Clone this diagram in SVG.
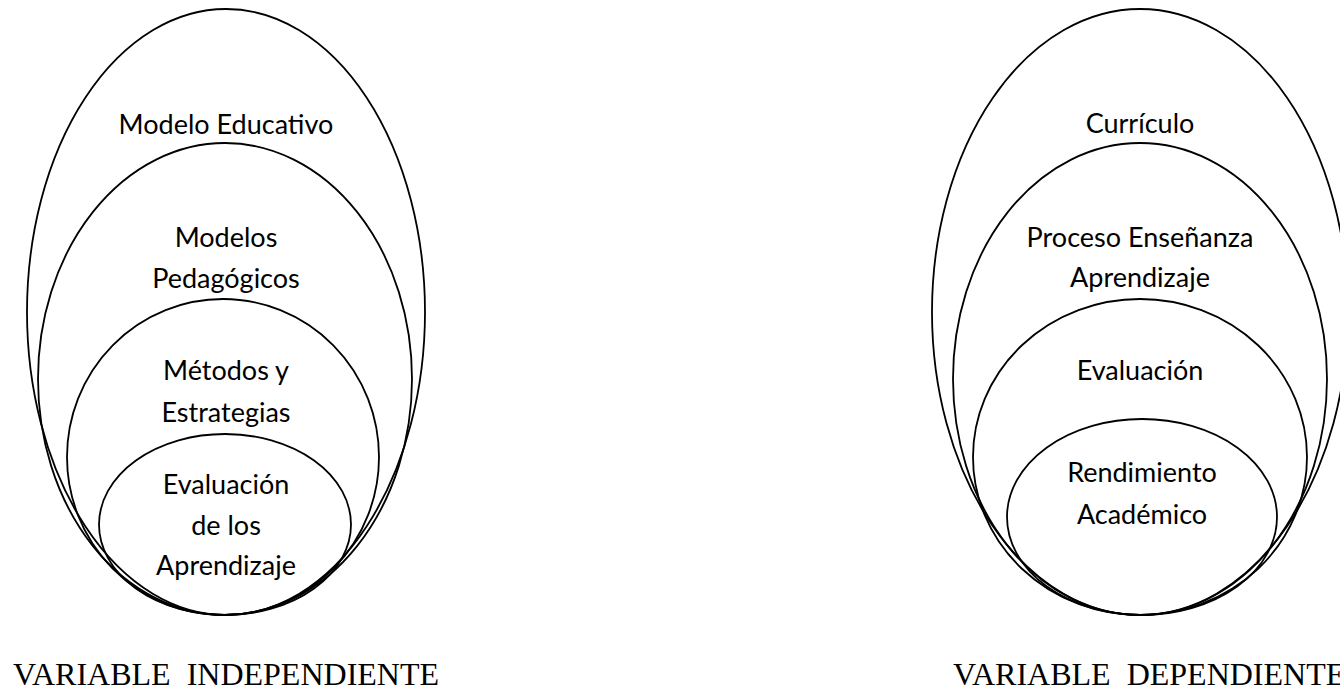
<svg xmlns="http://www.w3.org/2000/svg" width="1340" height="692" viewBox="0 0 1340 692">
<style>
.e{fill:none;stroke:#000;stroke-width:1.8}
.t{font-family:Lato,"Liberation Sans",sans-serif;font-size:27px;fill:#000;text-anchor:middle}
.v{font-family:"Liberation Serif","Times New Roman",serif;font-size:32px;fill:#000;white-space:pre}
</style>
<rect width="1340" height="692" fill="#fff"/>
<g id="independiente">
<g id="modelo-educativo"><ellipse class="e" cx="226" cy="312" rx="199" ry="303"/><text class="t" x="226" y="134">Modelo Educativo</text></g>
<g id="modelos-pedagogicos"><ellipse class="e" cx="225" cy="379" rx="187" ry="236"/><text class="t" x="226" y="247">Modelos</text><text class="t" x="226" y="288">Pedagógicos</text></g>
<g id="metodos"><ellipse class="e" cx="223" cy="457" rx="156" ry="158"/><text class="t" x="226" y="380">Métodos y</text><text class="t" x="226" y="422">Estrategias</text></g>
<g id="evaluacion-aprendizaje"><ellipse class="e" cx="225" cy="524.5" rx="126" ry="90.5"/><text class="t" x="226" y="494">Evaluación</text><text class="t" x="226" y="535">de los</text><text class="t" x="226" y="575">Aprendizaje</text></g>
<text class="v" x="13" y="685" xml:space="preserve">VARIABLE  INDEPENDIENTE</text>
</g>
<g id="dependiente">
<g id="curriculo"><ellipse class="e" cx="1140" cy="312" rx="208" ry="303"/><text class="t" x="1140" y="133">Currículo</text></g>
<g id="proceso"><ellipse class="e" cx="1140" cy="379" rx="187" ry="236"/><text class="t" x="1140" y="247">Proceso Enseñanza</text><text class="t" x="1140" y="287">Aprendizaje</text></g>
<g id="evaluacion"><ellipse class="e" cx="1140" cy="457" rx="167" ry="158"/><text class="t" x="1140" y="380">Evaluación</text></g>
<g id="rendimiento"><ellipse class="e" cx="1142" cy="517" rx="135" ry="98"/><text class="t" x="1142" y="482">Rendimiento</text><text class="t" x="1142" y="524">Académico</text></g>
<text class="v" x="953" y="685" xml:space="preserve">VARIABLE  DEPENDIENTE</text>
</g>
<g id="connectors"/>
</svg>
